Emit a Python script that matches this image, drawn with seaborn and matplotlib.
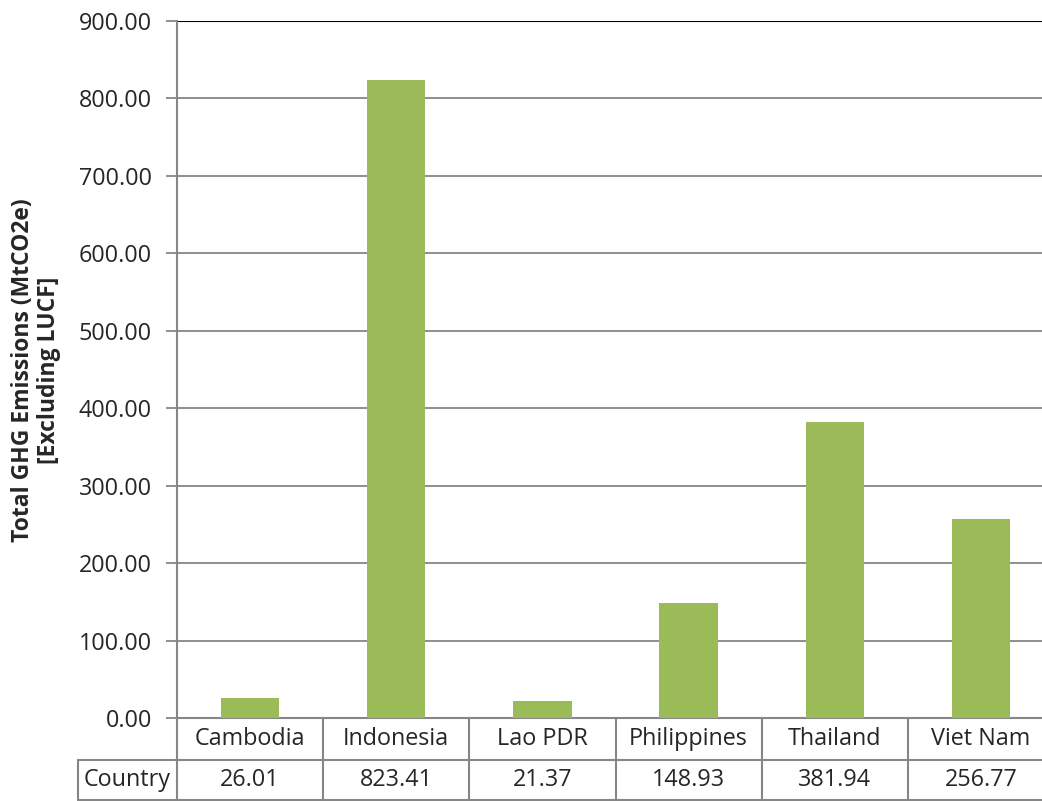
import matplotlib
matplotlib.use("Agg")
import matplotlib.pyplot as plt
import matplotlib.transforms as mtransforms
import pandas as pd
import seaborn as sns

# Chart data
countries = ["Cambodia", "Indonesia", "Lao PDR", "Philippines", "Thailand", "Viet Nam"]
emissions = [26.01, 823.41, 21.37, 148.93, 381.94, 256.77]
y_ticks = [0, 100, 200, 300, 400, 500, 600, 700, 800, 900]
row_label = "Country"

df = pd.DataFrame({"country": countries, "value": emissions})

sns.set_style("white")
plt.rcParams["font.family"] = ["Open Sans", "DejaVu Sans"]

grid_col = "#868686"
fs = 16.8
fig = plt.figure(figsize=(10.42, 8.01), dpi=100)
W, H = 1042, 801
ax = fig.add_axes([177 / W, 1 - 718 / H, (1054 - 177) / W, (718 - 21) / H])

sns.barplot(data=df, x="country", y="value", color="#9BBB59", saturation=1,
            width=0.4, linewidth=0, ax=ax, zorder=3)

ax.set_xlim(-0.5, len(countries) - 0.5)
ax.set_ylim(0, 900)
ax.set_yticks(y_ticks)
ax.set_yticklabels([f"{v:.2f}" for v in y_ticks], fontsize=fs)
ax.set_xticks([])
ax.set_xlabel("")
ax.set_ylabel("")
for v in y_ticks[1:-1]:
    ax.axhline(v, color=grid_col, lw=1.3, zorder=1)
ax.axhline(900, color="black", lw=1.5, zorder=1)
for s in ["top", "right", "bottom"]:
    ax.spines[s].set_visible(False)
ax.spines["left"].set_color(grid_col)
ax.spines["left"].set_linewidth(1.5)
ax.tick_params(axis="y", left=True, length=8, width=1.3, color=grid_col, pad=10)

# Data table under the chart
trans = mtransforms.blended_transform_factory(ax.transData, fig.transFigure)
r0, r1, r2 = 1 - 718 / H, 1 - 760 / H, 1 - 800 / H
lw = 1.5
x_left = -0.5
x_right = len(countries) - 0.5
country_x = -0.5 - (177 - 78) / 146.2
ax.plot([x_left, x_right], [r0, r0], transform=trans, color=grid_col, lw=lw, clip_on=False)
ax.plot([country_x, x_right], [r1, r1], transform=trans, color=grid_col, lw=lw, clip_on=False)
ax.plot([country_x, x_right], [r2, r2], transform=trans, color=grid_col, lw=lw, clip_on=False)
ax.plot([country_x, country_x], [r1, r2], transform=trans, color=grid_col, lw=lw, clip_on=False)
for i in range(len(countries) + 1):
    xb = i - 0.5
    ax.plot([xb, xb], [r0, r2], transform=trans, color=grid_col, lw=lw, clip_on=False)
for i, (c, v) in enumerate(zip(countries, emissions)):
    ax.text(i, (r0 + r1) / 2, c, transform=trans, ha="center", va="center", fontsize=fs)
    ax.text(i, (r1 + r2) / 2, f"{v:.2f}", transform=trans, ha="center", va="center", fontsize=fs)
ax.text((country_x - 0.5) / 2, (r1 + r2) / 2, row_label, transform=trans,
        ha="center", va="center", fontsize=fs)

fig.text(36 / W, 1 - 370 / H, "Total GHG Emissions (MtCO2e)\n[Excluding LUCF]",
         rotation=90, ha="center", va="center", fontsize=16.5, fontweight="bold",
         linespacing=1.1)

fig.savefig("out.png", dpi=100)
